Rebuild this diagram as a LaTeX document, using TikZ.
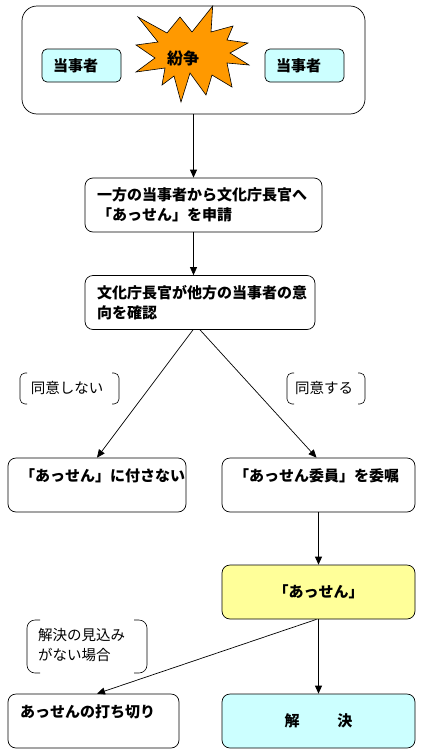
\documentclass[tikz,border=0pt]{standalone}
\usepackage{fontspec}
\usepackage{xcolor}
\usetikzlibrary{arrows.meta}
\newfontfamily\jp{Noto Sans CJK JP}
\definecolor{tojisha} {rgb}{0.8,1,1}
\definecolor{funso} {rgb}{1,0.6,0}
\definecolor{assen} {rgb}{1,1,0.6}
\definecolor{kaiketsu} {rgb}{0.8,1,1}

\tikzset{
  flowbox/.style={draw, line width=0.7pt, rounded corners=8pt, minimum height=54pt,
    inner xsep=12pt, align=left, font=\jp\bfseries\fontsize{15}{20}\selectfont},
  partybox/.style={flowbox, fill=tojisha, rounded corners=5pt, minimum height=33pt,
    inner xsep=11pt, text width=57pt},
  notetext/.style={font=\jp\fontsize{14.5}{20}\selectfont, align=left, inner sep=0pt},
  conn/.style={-{Triangle[length=8pt,width=7pt]}, line width=0.7pt}
}

\begin{document}
\begin{tikzpicture}[x=1pt,y=-1pt]
                  \useasboundingbox (0,0) rectangle (422,755);
                  % 紛争
                  \node[draw, line width=0.7pt, rounded corners=15pt, minimum width=343pt, minimum height=108pt] (dispute) at (193.5,60) {};
                  \node[partybox] (partyA) at (81.5,65.5) {当事者};
                  \node[partybox] (partyB) at (304.5,65.5) {当事者};
                  \filldraw[fill=funso, draw=black, line width=0.6pt] (212.7,6) -- (211,32) -- (233,26) -- (227,40) -- (248,43) -- (230,53)
                        -- (249,65) -- (227,63) -- (232,87) -- (212,75) -- (206,95) -- (190,73) -- (181,102) -- (174,76)
                        -- (162,85) -- (165,68) -- (136,72) -- (155,58) -- (136,45) -- (158,42) -- (138,17) -- (167,33)
                        -- (180,17) -- (192,32) -- cycle;
                  \node[font=\jp\bfseries\fontsize{16}{20}\selectfont] (conflict) at (183,58) {紛争};
                  % 申請と確認
                  \node[flowbox, text width=213pt] (apply) at (203.5,205) {一方の当事者から文化庁長官へ\\「あっせん」を申請};
                  \node[flowbox, text width=206pt] (kakunin) at (200,302.5) {文化庁長官が他方の当事者の意\\向を確認};
                  \node[flowbox, text width=154pt] (fusa) at (97,485) {「あっせん」に付さない\\~};
                  \node[flowbox, text width=169pt] (inin) at (318.5,485) {「あっせん委員」を委嘱\\~};
                  \node[flowbox, fill=assen, minimum width=193pt, align=center] (assen) at (318.5,592) {「あっせん」};
                  \node[flowbox, fill=kaiketsu, minimum width=193pt, align=center] (kaiketsu) at (318.5,721) {解\hspace{38pt}決};
                  \node[flowbox, text width=147pt] (uchikiri) at (93.5,721) {あっせんの打ち切り\\~};
                  % 注記
                  \draw[rounded corners=5pt, line width=0.6pt] (27,373) -- (20,373) -- (20,404) -- (27,404);
                  \draw[rounded corners=5pt, line width=0.6pt] (112,373) -- (119,373) -- (119,404) -- (112,404);
                  \node[notetext] (disagree) at (67,388) {同意しない};
                  \draw[rounded corners=5pt, line width=0.6pt] (294,373) -- (287,373) -- (287,404) -- (294,404);
                  \draw[rounded corners=5pt, line width=0.6pt] (358,373) -- (365,373) -- (365,404) -- (358,404);
                  \node[notetext] (agree) at (324,388) {同意する};
                  \draw[rounded corners=8pt, line width=0.6pt] (40,620) -- (27,620) -- (27,673) -- (40,673);
                  \draw[rounded corners=8pt, line width=0.6pt] (134,620) -- (147,620) -- (147,673) -- (134,673);
                  \node[notetext, anchor=west] (noprospect) at (38,645.5) {解決の見込み\\がない場合};
                  % 矢印
                  \draw[conn] (dispute.south) -- (dispute.south |- apply.north);
                  \draw[conn] (apply.south -| dispute.south) -- (kakunin.north -| dispute.south);
                  \draw[conn] ([xshift=-7pt]kakunin.south) -- (fusa.north);
                  \draw[conn] (kakunin.south) -- ([xshift=-2pt]inin.north);
                  \draw[conn] (inin.south) -- (assen.north);
                  \draw[conn] (assen.south) -- (kaiketsu.north);
                  \draw[conn] ([xshift=-2pt]assen.south) -- ([xshift=3.5pt]uchikiri.north);
            \end{tikzpicture}
\end{document}
